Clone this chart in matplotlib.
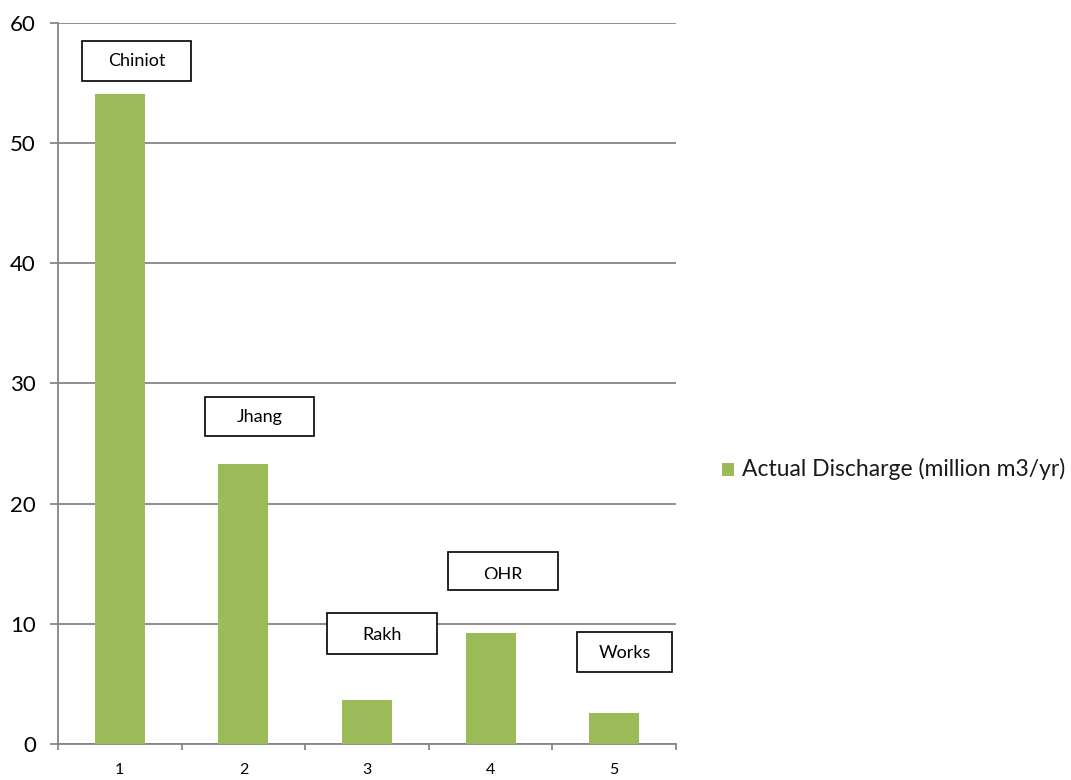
import matplotlib
matplotlib.use("Agg")
import matplotlib.pyplot as plt
from matplotlib.patches import Rectangle
from matplotlib.transforms import Bbox, TransformedBbox
from matplotlib.ticker import FixedLocator, NullFormatter, FixedFormatter

plt.rcParams['font.family'] = ['Lato', 'DejaVu Sans']

categories = [1, 2, 3, 4, 5]
cat_labels = ['1', '2', '3', '4', '5']
discharge = [54.1, 23.3, 3.7, 9.2, 2.6]
series_name = 'Actual Discharge (million m3/yr)'
yticks = [0, 10, 20, 30, 40, 50, 60]

# label boxes
box_labels = ['Chiniot', 'Jhang', 'Rakh', 'OHR', 'Works']
box_x0 = [0.694, 1.689, 2.676, 3.655, 4.699]
box_x1 = [1.576, 2.571, 3.566, 4.545, 5.468]
box_y0 = [55.16, 25.62, 7.49, 12.81, 5.99]
box_y1 = [58.49, 28.87, 10.90, 15.97, 9.32]
text_y = [56.8, 27.2, 9.05, 14.05, 7.6]

GREEN = '#9BBB59'
GRID = '#868686'

fig = plt.figure(figsize=(10.71, 7.80), dpi=100)
ax = fig.add_axes([58/1071, 36/780, 618/1071, 721/780])

ax.bar(categories, discharge, width=0.405, color=GREEN, zorder=3)

ax.set_xlim(0.5, 5.5)
ax.set_ylim(0, 60)
ax.set_yticks(yticks)
ax.yaxis.grid(True, color=GRID, linewidth=1.3, zorder=0)
ax.set_axisbelow(True)

for s in ['top', 'right']:
    ax.spines[s].set_visible(False)
for s in ['left', 'bottom']:
    ax.spines[s].set_color(GRID)
    ax.spines[s].set_linewidth(1.3)

ax.tick_params(axis='y', which='major', direction='out', length=6, width=1.3,
               color=GRID, labelsize=16, pad=10, labelcolor='black')
ax.xaxis.set_major_locator(FixedLocator([0.5, 1.5, 2.5, 3.5, 4.5, 5.5]))
ax.xaxis.set_major_formatter(NullFormatter())
ax.xaxis.set_minor_locator(FixedLocator(categories))
ax.xaxis.set_minor_formatter(FixedFormatter(cat_labels))
ax.tick_params(axis='x', which='major', direction='out', length=4, width=1.3, color=GRID)
ax.tick_params(axis='x', which='minor', length=0, labelsize=11.5, pad=14, labelcolor='black')

for lab, x0, x1, y0, y1, ty in zip(box_labels, box_x0, box_x1, box_y0, box_y1, text_y):
    r = Rectangle((x0, y0), x1 - x0, y1 - y0, facecolor='white', edgecolor='black',
                  linewidth=1.2, zorder=5)
    ax.add_patch(r)
    t = ax.text((x0 + x1) / 2, ty, lab, ha='center', va='center', fontsize=13,
                color='black', zorder=6)
    if lab == 'OHR':
        t.set_clip_on(True)
        t.set_clip_box(TransformedBbox(Bbox([[x0, 13.72], [x1, y1]]), ax.transData))
    else:
        t.set_clip_on(False)

# legend
fig.patches.append(Rectangle((722/1071, 1 - 476/780), 12/1071, 13/780,
                             transform=fig.transFigure, facecolor=GREEN, edgecolor='none'))
fig.text(742/1071, 1 - 469/780, series_name, ha='left', va='center', fontsize=16.5,
         color='#1a1a1a')

fig.savefig('out.png', dpi=100)
